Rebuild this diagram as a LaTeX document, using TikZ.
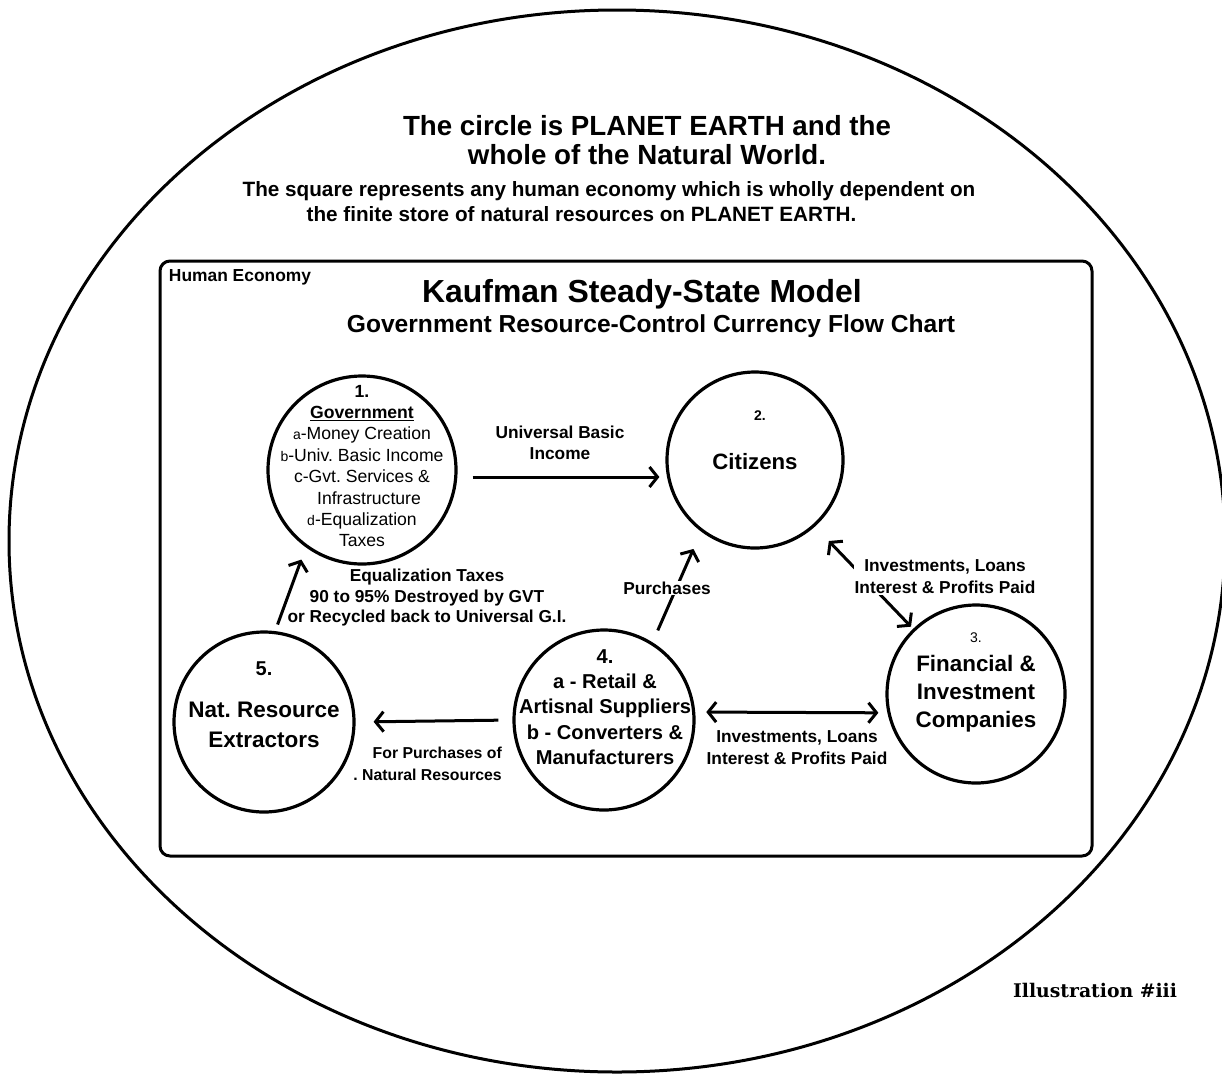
\documentclass[tikz,border=0pt]{standalone}
\usepackage{fontspec}
\setmainfont{Liberation Sans}
\newfontfamily\illfont{DejaVu Serif}
\usetikzlibrary{arrows.meta,calc}
\frenchspacing

\newcommand{\fs}[2]{\fontsize{#1}{#2}\selectfont}
\newcommand{\sm}[1]{{\fontsize{14}{14}\selectfont #1}}

\begin{document}
\begin{tikzpicture}[
    x=1pt, y=-1pt,
    >={Straight Barb[length=8pt,width=20pt]},
    ring/.style = {circle, draw, line width=3.2pt, inner sep=0pt},
    arr/.style = {line width=3pt, ->},
    arrtwo/.style = {line width=3pt, <->},
    lbl/.style = {align=center, inner sep=1pt, font={\fs{17.3}{21.5}\bfseries}},
    big/.style = {align=center, inner sep=0pt, font={\fs{22.4}{28}\bfseries}}
]
    \useasboundingbox (0,0) rectangle (1222,1076);

    % Planet earth and the human economy
    \draw[line width=3pt] (617,541) ellipse [x radius=608, y radius=531];
    \draw[line width=3pt, rounded corners=10pt] (160,261) rectangle (1092,856);

    % Header texts
    \node[align=center, font={\fs{27.7}{29}\bfseries}] (head1) at (647,140) {The circle is PLANET EARTH and the\\whole of the Natural World.};
    \node[align=left, font={\fs{20.7}{25}\bfseries}] (head2) at (609,202) {The square represents any human economy which is wholly dependent on\\\hspace*{64pt}the finite store of natural resources on PLANET EARTH.};
    \node[font={\fs{17.4}{18}\bfseries}] (human) at (240,277) {Human Economy};
    \node[font={\fs{31.9}{32}\bfseries}] (title) at (642,294) {Kaufman Steady-State Model};
    \node[font={\fs{24.6}{25}\bfseries}] (subtitle) at (651,326) {Government Resource-Control Currency Flow Chart};

    % Circles
    \node[ring, minimum size=188] (gov) at (362,470) {};
    \node[ring, minimum size=176] (cit) at (755,460) {};
    \node[ring, minimum size=178] (fin) at (976,694) {};
    \node[ring, minimum size=180] (ret) at (604,720) {};
    \node[ring, minimum size=180] (nat) at (264,722) {};

    % Circle texts
    \node[align=center, inner sep=0pt, font={\fs{17.6}{21.4}}] (govtxt) at (362,466) {\textbf{1.}\\\underline{\textbf{Government}}\\\sm{a}-Money Creation\\\sm{b}-Univ. Basic Income\\c-Gvt. Services \&\\\hspace*{14pt}Infrastructure\\\sm{d}-Equalization\\Taxes};
    \node[font={\fs{14}{14}\bfseries}] (citnum) at (760,416) {2.};
    \node[font={\fs{22.2}{24}\bfseries}] (cittxt) at (755,462) {Citizens};
    \node[font={\fs{14}{14}}] (finnum) at (976,638) {3.};
    \node[big] (fintxt) at (976,694) {Financial \&\\Investment\\Companies};
    \node[align=center, inner sep=0pt, font={\fs{20.1}{25.2}\bfseries}] (rettxt) at (605,707) {4.\\a - Retail \&\\Artisnal Suppliers\\b - Converters \&\\Manufacturers};
    \node[font={\fs{20}{20}\bfseries}] (natnum) at (264,669) {5.};
    \node[align=center, inner sep=0pt, font={\fs{22.5}{30}\bfseries}] (nattxt) at (264,725) {Nat. Resource\\Extractors};

    % Connectors
    \draw[arr] ($(gov.east)+(15,7)$) -- ($(cit.west)+(-6,17)$);
    \draw[arr, shorten <=7pt, shorten >=13pt] (nat.83) -- (gov.234);
    \draw[arr, shorten <=14pt, shorten >=18pt] (ret.west) -- (nat.east);
    \draw[arrtwo, shorten <=11pt, shorten >=9pt] (ret.5) -- (fin.192);
    \draw[arrtwo, shorten <=20pt, shorten >=3pt] (cit.-48) -- (fin.134);
    \draw[arr, shorten <=13pt, shorten >=19pt] (ret.58) -- (cit.233);

    % Connector labels
    \node[lbl] (ubi) at (560,443) {Universal Basic\\Income};
    \node[lbl, font={\fs{17.3}{20.5}\bfseries}] (eqtax) at (427,598) {Equalization Taxes\\90 to 95\% Destroyed by GVT\\or Recycled back to Universal G.I.};
    \node[lbl, fill=white] (purch) at (667,588) {Purchases};
    \node[lbl, fill=white, font={\fs{17.3}{22}\bfseries}] (invup) at (945,577) {Investments, Loans\\Interest \& Profits Paid};
    \node[lbl, font={\fs{17.3}{22}\bfseries}] (invlow) at (797,748) {Investments, Loans\\Interest \& Profits Paid};
    \node[lbl, anchor=east, align=right, font={\fs{15.8}{22}\bfseries}] (natres) at (503,764) {For Purchases of\\. Natural Resources};

    % Illustration tag
    \node[font={\fs{18.8}{19}\illfont\bfseries}] (illus) at (1095,990) {Illustration \#iii};
\end{tikzpicture}
\end{document}
